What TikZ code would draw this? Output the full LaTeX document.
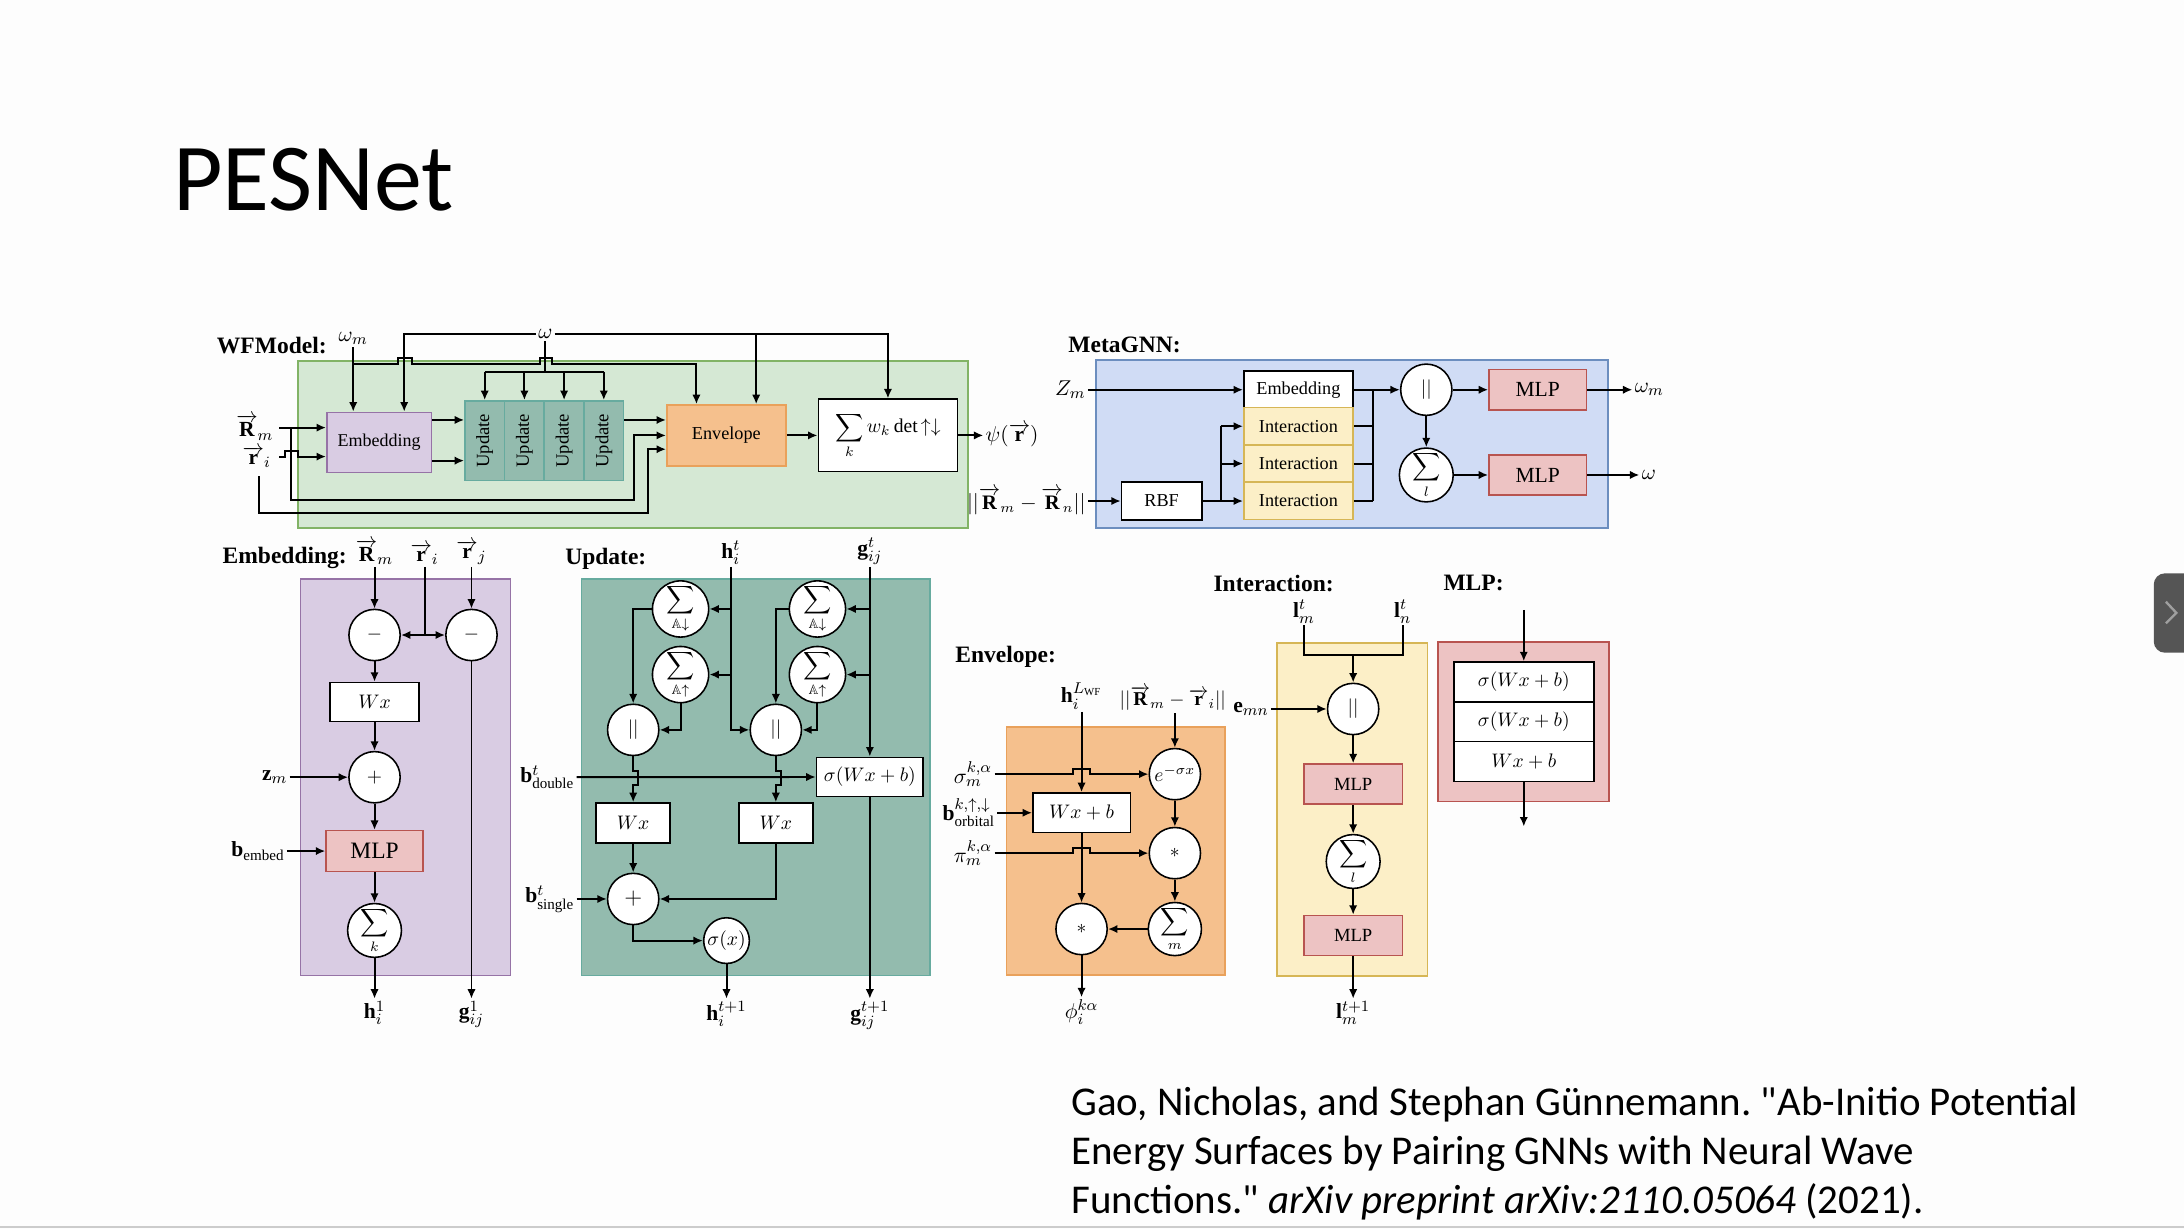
\documentclass[tikz,border=0pt]{standalone}
\usepackage{amsmath,amssymb}
\usepackage{graphicx}
\usepackage{fontspec}
\setmainfont{Liberation Serif}
\newfontfamily\slidefont{Carlito}
\usetikzlibrary{arrows.meta}
\frenchspacing
\newcommand\fsz[1]{\fontsize{#1}{#1}\selectfont}
\newcommand\vecR{\overrightarrow{\mathbf{R}}}
\newcommand\vecr{\overrightarrow{\mathbf{r}}}
\definecolor{bg}{HTML}{FDFDFD}
\definecolor{wfg}{HTML}{D5E8D4}\definecolor{wfgd}{HTML}{82B366}
\definecolor{emb}{HTML}{D9CCE3}\definecolor{embd}{HTML}{9673A6}
\definecolor{upd}{HTML}{93BBAE}\definecolor{updd}{HTML}{67AB9F}
\definecolor{env}{HTML}{F5C08D}\definecolor{envd}{HTML}{E9A15B}
\definecolor{meta}{HTML}{D0DCF5}\definecolor{metad}{HTML}{6C8EBF}
\definecolor{intc}{HTML}{FCEFC7}\definecolor{intd}{HTML}{D6B656}
\definecolor{mlpc}{HTML}{EDC3C3}\definecolor{mlpd}{HTML}{B85450}
\definecolor{tabc}{HTML}{555555}
\begin{document}
\begin{tikzpicture}[x=.25mm,y=-.25mm,
wire/.style={line width=1pt,-{Latex[length=1.7mm,width=1.5mm]}},
line/.style={line width=1pt},
box/.style={draw,line width=.8pt,fill=white,inner sep=0pt,font=\fsz{10pt}},
circ/.style={circle,draw,line width=.8pt,fill=white,minimum size=9.2mm,inner sep=0pt,font=\fsz{10pt}},
mlp/.style={box,fill=mlpc,draw=mlpd,font=\fsz{9.5pt}},
panel/.style={line width=.8pt},
lbl/.style={inner sep=1pt,font=\fsz{11pt}},
head/.style={anchor=west,inner sep=0pt,font=\bfseries\fsz{12pt}}]
\fill[bg](0,0)rectangle(1568,882);
\useasboundingbox(0,0)rectangle(1568,882);
\draw[gray!40,line width=1pt](0,881)--(1568,881);
\fill[tabc,rounded corners=2mm](1546.3,411.6)rectangle(1580,468.6);
\draw[gray!75,line width=1.2pt](1555,432)--(1562.5,440)--(1555,447.5);
\node[anchor=base west,inner sep=0pt,font=\slidefont\fsz{49pt}](title)at(124,150.8){PESNet};
\node[anchor=base west,inner sep=0pt,font=\slidefont\fsz{20.9pt}](cite1)at(769,801){Gao, Nicholas, and Stephan Günnemann. "Ab-Initio Potential};
\node[anchor=base west,inner sep=0pt,font=\slidefont\fsz{20.9pt}](cite2)at(769,836){Energy Surfaces by Pairing GNNs with Neural Wave};
\node[anchor=base west,inner sep=0pt,font=\slidefont\fsz{20.9pt}](cite3)at(769,871){Functions." \textit{arXiv preprint arXiv:2110.05064} (2021).};
\node[head](hdWF)at(155.5,248){WFModel:};
\draw[panel,fill=wfg,draw=wfgd](214,259)rectangle(695,379);
\node[box,fill=emb,draw=embd,minimum width=18.8mm,minimum height=10.8mm,font=\fsz{9.2pt}](embW)at(272.2,317.7){Embedding};
\foreach\i/\x in{1/348,2/376.5,3/405,4/433.5}\node[box,fill=upd,draw=updd,minimum width=7.1mm,minimum height=14.3mm,font=\fsz{9.5pt}](upd\i)at(\x,316.4){\rotatebox{90}{Update}};
\node[box,fill=env,draw=envd,minimum width=21.4mm,minimum height=10.95mm,font=\fsz{9.3pt}](envW)at(521.5,312.6){Envelope};
\node[box,minimum width=25mm,minimum height=13mm](detW)at(637.5,312.6){$\displaystyle\sum_k w_k\det{\uparrow\downarrow}$};
\node[lbl,anchor=west](psiW)at(706,312.6){$\psi(\vecr)$};
\node[lbl,anchor=east](rmW)at(198,307){$\vecR_m$};
\node[lbl,anchor=east](riW)at(196,328){$\vecr_i$};
\node[lbl](omW)at(391.5,240){$\omega$};
\node[lbl](ommW)at(253.6,243){$\omega_m$};
\coordinate(rmS)at(200.5,307);\coordinate(rmJ)at(208.9,307);
\coordinate(riS)at(200.5,327.8);\coordinate(riD)at(186.2,342);
\coordinate(ya)at(0,301.5);\coordinate(yb)at(0,330.7);\coordinate(yc)at(0,322.5);
\coordinate(xo1)at(290.2,0);\coordinate(xo2)at(542.9,0);\coordinate(xe)at(500,0);
\coordinate(yw)at(391.5,266.8);\coordinate(ymm)at(253.6,261.3);
\draw[wire](omW.west)-|(xo1|-embW.north);
\draw[wire](omW.east)-|(detW.north);
\draw[wire](xo2|-omW)--(xo2|-envW.north);
\draw[line](omW.south)--(yw);
\draw[line](upd1.north|-yw)--(upd4.north|-yw);
\foreach\i in{1,...,4}\draw[wire](upd\i.north|-yw)--(upd\i.north);
\draw[wire](ommW)--(ommW|-embW.north);
\draw[wire](ymm)--(285.9,261.3)--++(0,-4)--++(9.6,0)--++(0,4)--(387.6,261.3)--++(0,-4)--++(8.4,0)--++(0,4)-|(xe|-envW.north);
\draw[wire](rmS)--(rmS-|embW.west);
\draw[wire](rmJ)|-(455.4,358.9)|-(envW.west);
\draw[wire](riS)--(204.6,327.8)--++(0,-4)--++(9.5,0)--++(0,4)--(riS-|embW.west);
\draw[wire](riD)|-(465.4,368)|-(envW.west|-yc);
\draw[wire](embW.east|-ya)--(upd1.west|-ya);
\draw[wire](embW.east|-yb)--(upd1.west|-yb);
\draw[wire](upd4.east|-ya)--(envW.west|-ya);
\draw[wire](envW)--(detW);
\draw[wire](detW)--(psiW);
\node[head](hdMeta)at(766.8,247.6){MetaGNN:};
\draw[panel,fill=meta,draw=metad](787,258.4)rectangle(1154.6,379.2);
\node[box,minimum width=19.6mm,minimum height=6.75mm,font=\fsz{9.3pt}](embM)at(932.2,279.8){Embedding};
\foreach\i/\y in{1/306,2/332.8,3/359.7}\node[box,fill=intc,draw=intd,minimum width=19.6mm,minimum height=6.7mm,font=\fsz{9.3pt}](intM\i)at(932.2,\y){Interaction};
\node[box,minimum width=14.4mm,minimum height=6.9mm,font=\fsz{9.3pt}](rbfM)at(834,359.7){RBF};
\node[lbl,anchor=east,font=\fsz{10.5pt}](distM)at(781,359.7){$||\vecR_m-\vecR_n||$};
\node[lbl,anchor=east](zmM)at(781,279.8){$Z_m$};
\node[circ](catM)at(1024,279.8){$||$};
\node[circ](sumM)at(1024,341){$\displaystyle\sum_l$};
\node[mlp,minimum width=17.5mm,minimum height=7.2mm,font=\fsz{11pt}](mlpM1)at(1104,279.8){MLP};
\node[mlp,minimum width=17.5mm,minimum height=7.2mm,font=\fsz{11pt}](mlpM2)at(1104,341){MLP};
\node[lbl,anchor=west](omM)at(1172,279.8){$\omega_m$};
\node[lbl,anchor=west](omM2)at(1177,341){$\omega$};
\coordinate(rj)at(876.4,359.7);\coordinate(oj)at(985.9,279.8);
\draw[wire](zmM)--(embM);
\draw[wire](distM)--(rbfM);
\draw[line](rbfM)--(rj)--(rj|-intM1);
\foreach\i in{1,2,3}{\draw[wire](rj|-intM\i)--(intM\i);\draw[line](intM\i)--(oj|-intM\i);}
\draw[line](oj)--(oj|-intM3);
\draw[wire](embM)--(catM);
\draw[wire](catM)--(sumM);
\draw[wire](catM)--(mlpM1);
\draw[wire](sumM)--(mlpM2);
\draw[wire](mlpM1)--(omM);
\draw[wire](mlpM2)--(omM2);
\node[head](hdEmb)at(159.6,400.8){Embedding:};
\draw[panel,fill=emb,draw=embd](215.8,415.7)rectangle(366.5,700.4);
\node[lbl,anchor=south](rmE)at(268.9,407){$\vecR_m$};
\node[lbl,anchor=south](riE)at(304.8,407){$\vecr_i$};
\node[lbl,anchor=south](rjE)at(338.5,407){$\vecr_j$};
\node[circ](subE1)at(268.9,455.9){$-$};
\node[circ](subE2)at(338.5,455.9){$-$};
\node[box,minimum width=16mm,minimum height=7mm](wxE)at(268.9,504){$Wx$};
\node[circ](addE)at(268.9,558){$+$};
\node[mlp,minimum width=17.4mm,minimum height=7.3mm,font=\fsz{12pt}](mlpE)at(268.9,611){MLP};
\node[circ](sumE)at(268.9,668){$\displaystyle\sum_k$};
\node[lbl,anchor=east](zmE)at(208,558){$\mathbf{z}_m$};
\node[lbl,anchor=east](bembE)at(206,611){$\mathbf{b}_\mathrm{embed}$};
\node[lbl,anchor=north](h1E)at(268.9,717){$\mathbf{h}_i^1$};
\node[lbl,anchor=north](g1E)at(338.5,717){$\mathbf{g}_{ij}^1$};
\draw[wire](rmE)--(subE1);
\draw[wire](rjE)--(subE2);
\draw[line](riE)--(riE|-subE1);
\draw[wire](riE|-subE1)--(subE1);
\draw[wire](riE|-subE1)--(subE2);
\draw[wire](subE1)--(wxE);
\draw[wire](wxE)--(addE);
\draw[wire](addE)--(mlpE);
\draw[wire](mlpE)--(sumE);
\draw[wire](zmE)--(addE);
\draw[wire](bembE)--(mlpE);
\draw[wire](sumE)--(h1E);
\draw[wire](subE2)--(g1E);
\node[head](hdUpd)at(405.6,401.3){Update:};
\draw[panel,fill=upd,draw=updd](417.5,415.7)rectangle(667.5,700.4);
\node[lbl,anchor=south](hU)at(524.7,407){$\mathbf{h}_i^t$};
\node[lbl,anchor=south](gU)at(624.5,407){$\mathbf{g}_{ij}^t$};
\foreach\n/\x in{L/488.6,R/586.9}{\node[circ](sd\n)at(\x,437.2){$\displaystyle\sum_{\mathbb{A}\downarrow}$};
\node[circ](su\n)at(\x,484.3){$\displaystyle\sum_{\mathbb{A}\uparrow}$};}
\node[circ](catL)at(454.6,524){$||$};
\node[circ](catR)at(557,524){$||$};
\node[box,minimum width=19.15mm,minimum height=7.05mm](swU)at(624.5,557.8){$\sigma(Wx+b)$};
\node[box,minimum width=13.3mm,minimum height=7.2mm](wxL)at(454.6,590.9){$Wx$};
\node[box,minimum width=13.3mm,minimum height=7.2mm](wxR)at(557,590.9){$Wx$};
\node[circ,font=\fsz{12pt}](addU)at(454.6,645.4){$+$};
\node[circ,minimum size=8.2mm](sgU)at(521.6,675.3){$\sigma(x)$};
\node[lbl,anchor=east](bdU)at(414,558){$\mathbf{b}^t_\mathrm{double}$};
\node[lbl,anchor=east](bsU)at(414,645.4){$\mathbf{b}^t_\mathrm{single}$};
\node[lbl,anchor=north](hU1)at(521.6,717){$\mathbf{h}_i^{t+1}$};
\node[lbl,anchor=north](gU1)at(624.5,717){$\mathbf{g}_{ij}^{t+1}$};
\coordinate(hpy)at(0,553.4);
\draw[wire](hU)|-(catR);
\draw[wire](hU|-sdL)--(sdL);
\draw[wire](hU|-suL)--(suL);
\draw[wire](gU)--(swU);
\draw[wire](gU|-sdR)--(sdR);
\draw[wire](gU|-suR)--(suR);
\foreach\n in{L,R}{\draw[wire](sd\n)-|(cat\n);\draw[wire](su\n)|-(cat\n);
\draw[wire](cat\n.south)--(cat\n.south|-hpy)--++(3.6,0)--++(0,10)--++(-3.6,0)--(wx\n.north);}
\draw[wire](bdU)--(swU);
\draw[wire](wxL)--(addU);
\draw[wire](wxR)|-(addU);
\draw[wire](bsU)--(addU);
\draw[wire](addU)|-(sgU);
\draw[wire](sgU)--(hU1);
\draw[wire](swU)--(gU1);
\node[head](hdEnv)at(685.6,471.4){Envelope:};
\draw[panel,fill=env,draw=envd](722.7,522.1)rectangle(879.4,699.8);
\node[lbl,anchor=south](hEv)at(776.5,511){$\mathbf{h}_i^{L_\mathrm{WF}}$};
\node[lbl,anchor=south,font=\fsz{10pt}](dEv)at(842,512){$||\vecR_m-\vecr_i||$};
\node[circ](expE)at(843.5,555.8){$e^{-\sigma x}$};
\node[box,minimum width=17.5mm,minimum height=7.1mm](wxbE)at(776.5,583.5){$Wx+b$};
\node[circ](mulR)at(843.5,612.5){$*$};
\node[circ](sumEv)at(843.5,667){$\displaystyle\sum_m$};
\node[circ](mulL)at(776.5,667){$*$};
\node[lbl,anchor=east](sgE)at(714,555.8){$\sigma_m^{k,\alpha}$};
\node[lbl,anchor=east](boE)at(716,583.5){$\mathbf{b}^{k,\uparrow,\downarrow}_\mathrm{orbital}$};
\node[lbl,anchor=east](piE)at(714,612.5){$\pi_m^{k,\alpha}$};
\node[lbl,anchor=north](phE)at(776.5,716){$\phi_i^{k\alpha}$};
\draw[wire](hEv)--(wxbE);
\draw[wire](dEv.south-|expE)--(expE);
\draw[wire](sgE)--(770.5,555.8)--++(0,-4)--++(12,0)--++(0,4)--(expE);
\draw[wire](boE)--(wxbE);
\draw[wire](piE)--(770.5,612.5)--++(0,-4)--++(12,0)--++(0,4)--(mulR);
\draw[wire](expE)--(mulR);
\draw[wire](mulR)--(sumEv);
\draw[wire](sumEv)--(mulL);
\draw[wire](wxbE)--(mulL);
\draw[wire](mulL)--(phE);
\node[head](hdInt)at(871,418.8){Interaction:};
\draw[panel,fill=intc,draw=intd](917,461.8)rectangle(1024.9,700.6);
\node[lbl,anchor=south](lmI)at(936.1,449){$\mathbf{l}_m^t$};
\node[lbl,anchor=south](lnI)at(1007,449){$\mathbf{l}_n^t$};
\coordinate(yI)at(971.5,470.2);
\node[circ](catI)at(971.5,509){$||$};
\node[lbl,anchor=east](emnI)at(912.5,509){$\mathbf{e}_{mn}$};
\node[mlp,minimum width=17.65mm,minimum height=7.2mm](mlpI1)at(971.5,563){MLP};
\node[circ](sumI)at(971.5,618.5){$\displaystyle\sum_l$};
\node[mlp,minimum width=17.65mm,minimum height=7.2mm](mlpI2)at(971.5,671.7){MLP};
\node[lbl,anchor=north](lI1)at(971.5,717){$\mathbf{l}_m^{t+1}$};
\draw[line](lmI)--(lmI|-yI)--(lnI|-yI)--(lnI);
\draw[wire](yI)--(catI);
\draw[wire](emnI)--(catI);
\draw[wire](catI)--(mlpI1);
\draw[wire](mlpI1)--(sumI);
\draw[wire](sumI)--(mlpI2);
\draw[wire](mlpI2)--(lI1);
\node[head](hdMLP)at(1036.1,418.8){MLP:};
\draw[panel,fill=mlpc,draw=mlpd](1032.6,461.1)rectangle(1155.3,575.5);
\foreach\i/\y/\t in{1/489.6/\sigma(Wx+b),2/518.1/\sigma(Wx+b),3/546.8/Wx+b}\node[box,minimum width=25.1mm,minimum height=7.15mm](lay\i)at(1094,\y){$\t$};
\coordinate(mIn)at(1094,437.9);\coordinate(mOut)at(1094,593.4);
\draw[wire](mIn)--(lay1);
\draw[wire](lay3)--(mOut);
\end{tikzpicture}
\end{document}
